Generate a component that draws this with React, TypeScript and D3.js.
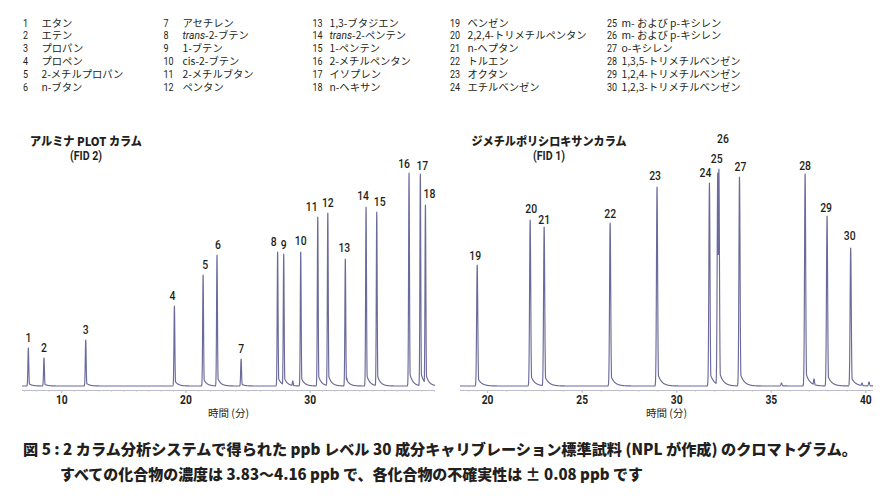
import React from "react";
import * as d3 from "d3";

// ---- Legend data ----
const legendNums = [
  ["1", "2", "3", "4", "5", "6"],
  ["7", "8", "9", "10", "11", "12"],
  ["13", "14", "15", "16", "17", "18"],
  ["19", "20", "21", "22", "23", "24"],
  ["25", "26", "27", "28", "29", "30"],
];
const legendNames = [
  ["エタン", "エテン", "プロパン", "プロペン", "2-メチルプロパン", "n-ブタン"],
  ["アセチレン", "trans|-2-ブテン", "1-ブテン", "cis-2-ブテン", "2-メチルブタン", "ペンタン"],
  ["1,3-ブタジエン", "trans|-2-ペンテン", "1-ペンテン", "2-メチルペンタン", "イソプレン", "n-ヘキサン"],
  ["ベンゼン", "2,2,4-トリメチルペンタン", "n-ヘプタン", "トルエン", "オクタン", "エチルベンゼン"],
  ["m- および p-キシレン", "m- および p-キシレン", "o-キシレン", "1,3,5-トリメチルベンゼン", "1,2,4-トリメチルベンゼン", "1,2,3-トリメチルベンゼン"],
];

// ---- Left chromatogram (Alumina PLOT, FID 2) ----
const leftLabels = ["1", "2", "3", "4", "5", "6", "7", "8", "9", "10", "11", "12", "13", "14", "15", "16", "17", "18"];
const leftTimes = [7.31, 8.57, 11.93, 19.07, 21.38, 22.5, 24.44, 27.38, 27.87, 29.24, 30.61, 31.42, 32.83, 34.5, 35.36, 37.96, 38.87, 39.28];
const leftHeights = [38, 28, 46, 80, 111, 131, 27, 134, 132, 134, 169, 173, 127, 179, 174, 213, 212, 181];
const leftMinorTimes = [28.6, 32.95];
const leftMinorHeights = [5, 8];
const leftLabelDx = [0, 0, 0, -2, 2, 1, 0, -4, 0, 0, -6, 0, -1, -3, 3, -5, 2, 4];
const leftLabelDy = [-11, -11, -11, -11, -11, -11, -11, -11, -10, -12, -11, -11, -12, -12, -11, -10, -9, -12];
const leftTicks = [10, 20, 30];

// ---- Right chromatogram (dimethylpolysiloxane, FID 1) ----
const rightLabels = ["19", "20", "21", "22", "23", "24", "25", "26", "27", "28", "29", "30"];
const rightTimes = [19.45, 22.25, 22.99, 26.48, 28.96, 31.73, 32.17, 32.23, 33.32, 36.79, 37.95, 39.2];
const rightHeights = [121, 166, 159, 163, 199, 203, 213, 217, 209, 212, 170, 138];
const rightMinorTimes = [35.54, 37.26, 39.8, 40.17];
const rightMinorHeights = [3, 7, 3, 4];
const rightLabelDx = [-2, 1, 0, 0, -2, -4, -1, 4, 1, 0, -1, -1];
const rightLabelDy = [-10, -12, -8, -10, -12, -11, -15, -31, -11, -9, -9, -13];
const rightTicks = [20, 25, 30, 35, 40];

const TRACE = "#6b6a9b";
const INK = "#231f20";
const JP = "'Noto Sans CJK JP', 'Noto Sans', sans-serif";
const NUM = "Roboto, 'Liberation Sans', sans-serif";

type Peak = { t: number; h: number };

function buildTrace(peaks: Peak[], domain: [number, number], sigma: number, tau: number) {
  const ts: number[] = [];
  for (let t = domain[0]; t <= domain[1]; t += 0.004) ts.push(t);
  peaks.forEach((p) => ts.push(p.t));
  ts.sort((a, b) => a - b);
  return ts.map((t) => {
    let y = 0;
    for (const p of peaks) {
      const d = t - p.t;
      if (Math.abs(d) > 3) continue;
      const g = Math.exp(-0.5 * (d / sigma) * (d / sigma));
      let v = p.h * g;
      if (d > 0) v = Math.max(v, p.h * 0.075 * Math.exp(-d / tau));
      y = Math.max(y, v);
    }
    return [t, y] as [number, number];
  });
}

function CText(props: {
  x: number;
  y: number;
  sx: number;
  anchor?: string;
  size: number;
  weight?: number;
  family?: string;
  children: React.ReactNode;
}) {
  return (
    <text
      transform={`translate(${props.x},${props.y}) scale(${props.sx},1)`}
      textAnchor={props.anchor || "start"}
      fontFamily={props.family || NUM}
      fontSize={props.size}
      fontWeight={props.weight || 400}
      fill={INK}
    >
      {props.children}
    </text>
  );
}

function Chromatogram(props: {
  labels: string[];
  times: number[];
  heights: number[];
  minorTimes: number[];
  minorHeights: number[];
  dx: number[];
  dy: number[];
  ticks: number[];
  domain: [number, number];
  range: [number, number];
  sigma: number;
  tau: number;
  title: string;
  titleWidth: number;
  sub: string;
  titleX: number;
}) {
  const x = d3.scaleLinear().domain(props.domain).range(props.range);
  const y = d3.scaleLinear().domain([0, 230]).range([386, 156]);
  const peaks: Peak[] = props.times.map((t, i) => ({ t, h: props.heights[i] }));
  const minor: Peak[] = props.minorTimes.map((t, i) => ({ t, h: props.minorHeights[i] }));
  const pts = buildTrace(peaks.concat(minor), props.domain, props.sigma, props.tau);
  const line = d3
    .line<[number, number]>()
    .x((d) => x(d[0]))
    .y((d) => y(d[1]));
  const axisY = 390.5;
  const minorTicks = d3.range(Math.ceil(props.domain[0]), Math.floor(props.domain[1]) + 1);
  const midX = (props.range[0] + props.range[1]) / 2;
  return (
    <g>
      <text x={props.titleX} y={146} textAnchor="middle" fontFamily={JP} fontWeight={900} fontSize={12} fill={INK} textLength={props.titleWidth} lengthAdjust="spacingAndGlyphs">
        {props.title}
      </text>
      <CText x={props.titleX} y={159.5} sx={0.85} anchor="middle" size={12.5} weight={700}>
        {props.sub}
      </CText>
      <line x1={props.range[0]} x2={props.range[1]} y1={axisY} y2={axisY} stroke="#bdbccb" strokeWidth={1} />
      {minorTicks.map((t) => (
        <line key={"m" + t} x1={x(t)} x2={x(t)} y1={axisY} y2={axisY + 1.5} stroke="#cfcedb" strokeWidth={0.8} />
      ))}
      {props.ticks.map((t) => (
        <g key={t}>
          <line x1={x(t)} x2={x(t)} y1={axisY} y2={axisY + 2.5} stroke="#bdbccb" strokeWidth={1} />
          <CText x={x(t)} y={403.5} sx={0.82} anchor="middle" size={12.5} weight={700}>
            {t}
          </CText>
        </g>
      ))}
      <text x={midX} y={417} textAnchor="middle" fontFamily={JP} fontSize={10.5} fill={INK}>
        時間 (分)
      </text>
      <path d={line(pts) || ""} fill="none" stroke={TRACE} strokeWidth={1.15} strokeLinejoin="round" />
      {peaks.map((p, i) => (
        <CText key={"l" + i} x={x(p.t) + props.dx[i]} y={y(p.h) + props.dy[i] + 4.7} sx={0.8} anchor="middle" size={13} weight={500}>
          {props.labels[i]}
        </CText>
      ))}
    </g>
  );
}

const legendNumX = [23, 163.5, 312.5, 450, 607];
const legendTextX = [41.5, 182.5, 329.5, 467.5, 621.5];

function Legend() {
  return (
    <g>
      {legendNums.map((col, ci) =>
        col.map((n, ri) => {
          const yy = 26.5 + ri * 12.8;
          const name = legendNames[ci][ri];
          const parts = name.split("|");
          return (
            <g key={ci + "-" + ri}>
              <CText x={legendNumX[ci]} y={yy} sx={0.78} size={11.5}>
                {n}
              </CText>
              <text x={legendTextX[ci]} y={yy} fontFamily={JP} fontSize={10.3} fill={INK}>
                {parts.length > 1 ? (
                  <>
                    <tspan fontStyle="italic" fontFamily={NUM}>{parts[0]}</tspan>
                    <tspan>{parts[1]}</tspan>
                  </>
                ) : (
                  name
                )}
              </text>
            </g>
          );
        })
      )}
    </g>
  );
}

export default function App() {
  return (
    <svg width={892} height={499} style={{ position: "absolute", left: 0, top: 0, background: "#fff" }}>
      <rect width={892} height={499} fill="#fff" />
      <Legend />
      <Chromatogram
        labels={leftLabels}
        times={leftTimes}
        heights={leftHeights}
        minorTimes={leftMinorTimes}
        minorHeights={leftMinorHeights}
        dx={leftLabelDx}
        dy={leftLabelDy}
        ticks={leftTicks}
        domain={[6.8, 40.05]}
        range={[22, 435]}
        sigma={0.035}
        tau={0.25}
        title="アルミナ PLOT カラム"
        titleWidth={112}
        sub="(FID 2)"
        titleX={86}
      />
      <Chromatogram
        labels={rightLabels}
        times={rightTimes}
        heights={rightHeights}
        minorTimes={rightMinorTimes}
        minorHeights={rightMinorHeights}
        dx={rightLabelDx}
        dy={rightLabelDy}
        ticks={rightTicks}
        domain={[18.54, 40.38]}
        range={[460, 873]}
        sigma={0.03}
        tau={0.2}
        title="ジメチルポリシロキサンカラム"
        titleWidth={155}
        sub="(FID 1)"
        titleX={549}
      />
      <text x={23} y={455} fontFamily={JP} fontWeight={900} fontSize={15} fill={INK} textLength={834} lengthAdjust="spacingAndGlyphs">
        図 5 : 2 カラム分析システムで得られた ppb レベル 30 成分キャリブレーション標準試料 (NPL が作成) のクロマトグラム。
      </text>
      <text x={60} y={480} fontFamily={JP} fontWeight={900} fontSize={15} fill={INK} textLength={583} lengthAdjust="spacingAndGlyphs">
        すべての化合物の濃度は 3.83～4.16 ppb で、各化合物の不確実性は ± 0.08 ppb です
      </text>
    </svg>
  );
}
